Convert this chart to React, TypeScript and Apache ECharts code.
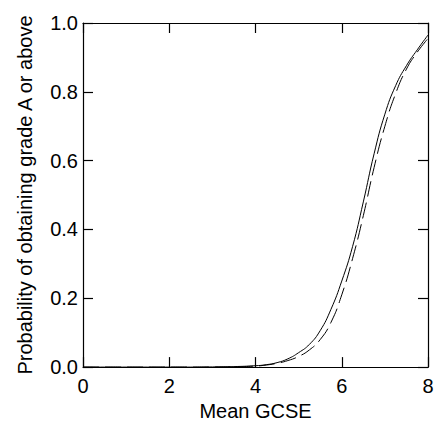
import React, { useEffect, useRef } from "react";
import * as echarts from "echarts";

const xValues = [0, 0.5, 1, 1.5, 2, 2.5, 3, 3.5, 4, 4.25, 4.5, 4.75, 5, 5.25, 5.5, 5.75, 6, 6.25, 6.5, 6.75, 7, 7.25, 7.5, 7.75, 8];
const solidValues = [0, 0, 0, 0, 0, 0, 0.0005, 0.0015, 0.004, 0.007, 0.013, 0.024, 0.042, 0.066, 0.106, 0.168, 0.25, 0.35, 0.48, 0.62, 0.735, 0.818, 0.876, 0.922, 0.965];
const dashedValues = [0, 0, 0, 0, 0, 0, 0.0003, 0.001, 0.003, 0.006, 0.011, 0.019, 0.031, 0.05, 0.08, 0.13, 0.21, 0.315, 0.44, 0.58, 0.7, 0.795, 0.866, 0.915, 0.955];
const xTicks = [0, 2, 4, 6, 8];
const yTicks = [0, 0.2, 0.4, 0.6, 0.8, 1.0];
const xTitle = "Mean GCSE";
const yTitle = "Probability of obtaining grade A or above";

const FONT = "'Liberation Sans', Arial, Helvetica, sans-serif";

export default function App() {
  const ref = useRef<HTMLDivElement>(null);
  useEffect(() => {
    if (!ref.current) return;
    const chart = echarts.init(ref.current, undefined, { renderer: "svg" });
    const axisLine = { show: true, onZero: false, lineStyle: { color: "#000", width: 1.2 } };
    const tick = { show: true, inside: true, length: 10, lineStyle: { color: "#000", width: 1.2 } };
    chart.setOption({
      animation: false,
      backgroundColor: "#fff",
      grid: { left: 83, right: 9, top: 23, bottom: 57, containLabel: false },
      xAxis: [
        {
          type: "value",
          min: xTicks[0],
          max: xTicks[xTicks.length - 1],
          interval: 2,
          name: xTitle,
          nameLocation: "middle",
          nameGap: 31,
          nameTextStyle: { color: "#000", fontSize: 20, fontFamily: FONT },
          axisLine,
          axisTick: tick,
          splitLine: { show: false },
          axisLabel: { color: "#000", fontSize: 20, fontFamily: FONT, margin: 9, formatter: (v: number) => String(v) },
        },
        {
          type: "value",
          position: "top",
          min: xTicks[0],
          max: xTicks[xTicks.length - 1],
          interval: 2,
          axisLine,
          axisTick: tick,
          splitLine: { show: false },
          axisLabel: { show: false },
        },
      ],
      yAxis: [
        {
          type: "value",
          min: yTicks[0],
          max: yTicks[yTicks.length - 1],
          interval: 0.2,
          name: yTitle,
          nameLocation: "middle",
          nameGap: 48,
          nameTextStyle: { color: "#000", fontSize: 20, fontFamily: FONT },
          axisLine,
          axisTick: tick,
          splitLine: { show: false },
          axisLabel: { color: "#000", fontSize: 20, fontFamily: FONT, margin: 5, formatter: (v: number) => v.toFixed(1) },
        },
        {
          type: "value",
          position: "right",
          min: yTicks[0],
          max: yTicks[yTicks.length - 1],
          interval: 0.2,
          axisLine,
          axisTick: tick,
          splitLine: { show: false },
          axisLabel: { show: false },
        },
      ],
      series: [
        {
          type: "line",
          data: xValues.map((x, i) => [x, solidValues[i]]),
          smooth: 0.5,
          showSymbol: false,
          lineStyle: { color: "#000", width: 1 },
          z: 3,
        },
        {
          type: "line",
          data: xValues.map((x, i) => [x, dashedValues[i]]),
          smooth: 0.5,
          showSymbol: false,
          lineStyle: { color: "#000", width: 1, type: [16, 6] },
          z: 3,
        },
      ],
    });
    return () => chart.dispose();
  }, []);
  return <div ref={ref} style={{ width: 437, height: 426, position: "absolute", left: 0, top: 0 }} />;
}
